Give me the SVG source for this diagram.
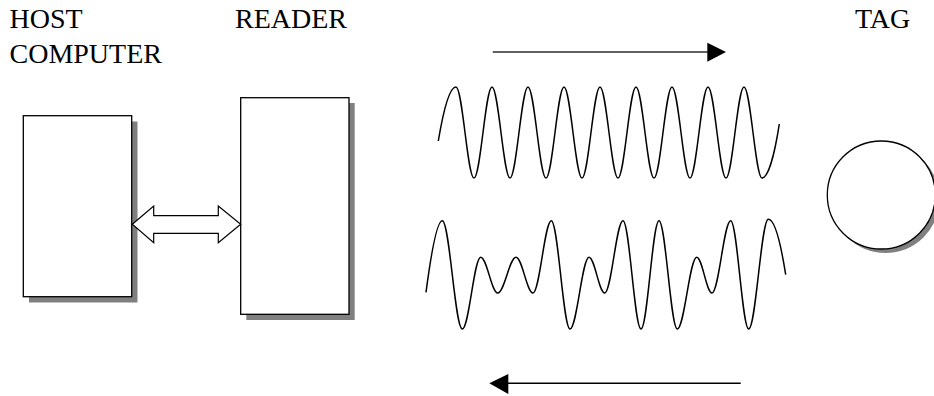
<svg xmlns="http://www.w3.org/2000/svg" width="934" height="396" viewBox="0 0 934 396">
<defs>
<style>
.lbl{font-family:"Liberation Serif","Times New Roman",serif;font-size:28px;fill:#000}
.box{fill:#fff;stroke:#000;stroke-width:1.3}
.shadow{fill:#808080;stroke:none}
.wave{fill:none;stroke:#000;stroke-width:1.5;stroke-linejoin:round}
</style>
</defs>
<rect width="934" height="396" fill="#fff"/>
<g id="labels">
<text class="lbl" x="9.5" y="28.3">HOST</text>
<text class="lbl" x="9.5" y="63.3">COMPUTER</text>
<text class="lbl" x="235" y="28.3">READER</text>
<text class="lbl" x="855" y="28.3">TAG</text>
</g>
<g id="host">
<rect class="shadow" x="29" y="121.5" width="108.5" height="181"/>
<rect class="box" x="23.3" y="115.7" width="108.4" height="181"/>
</g>
<g id="reader">
<rect class="shadow" x="246.3" y="103" width="108.4" height="217"/>
<rect class="box" x="240.7" y="97.7" width="108.3" height="216.6"/>
</g>
<g id="tag">
<circle class="shadow" cx="885.5" cy="199" r="54"/>
<circle class="box" cx="881.3" cy="195" r="54"/>
</g>
<g id="connectors">
<polygon points="132.3,224.3 153.7,206 153.7,215.7 218.3,215.7 218.3,206 240.7,224.3 218.3,242.7 218.3,233.3 153.7,233.3 153.7,242.7" fill="#fff" stroke="#000" stroke-width="1.2" stroke-linejoin="miter"/>
<line x1="492.7" y1="52" x2="708" y2="52" stroke="#606060" stroke-width="2"/>
<polygon points="707.3,42.7 726,52 707.3,61.7" fill="#000"/>
<line x1="508" y1="383.3" x2="740.7" y2="383.3" stroke="#000" stroke-width="1.5"/>
<polygon points="489.3,383.3 508.3,374 508.3,394" fill="#000"/>
</g>
<g id="waves">
<path class="wave" d="M438.3,141 C443,113 449.5,87 456,87 C462.5,87 467.5,178 474,178 S485.5,87 492,87 S503.5,178 510,178 S521.5,87 528,87 S539.5,178 546,178 S557.5,87 564,87 S575.5,178 582,178 S593.5,87 600,87 S611.5,178 618,178 S629.5,87 636,87 S647.5,178 654,178 S665.5,87 672,87 S683.5,178 690,178 S701.5,87 708,87 S719.5,178 726,178 S737.5,87 744,87 S755.5,178 762,178 C768.5,178 775,152 779.3,124"/>
<path class="wave" d="M426,292.3 C430,262 436,220.7 442.3,220.7 C449.6,220.7 455,329 462.3,329 C469,329 474,257.3 480.7,257.3 C486.9,257.3 491.5,293 497.7,293 C504.3,293 509.4,257.3 516,257.3 C522.2,257.3 526.8,293 533,293 C539.6,293 544.7,220.7 551.3,220.7 C558.1,220.7 563.2,329 570,329 C576.9,329 582.1,257.3 589,257.3 C594.7,257.3 599,293 604.7,293 C611.3,293 616.4,220.7 623,220.7 C629.5,220.7 634.5,329 641,329 C647.5,329 652.5,220.7 659,220.7 C665.6,220.7 670.7,329 677.3,329 C684.3,329 689.7,257.3 696.7,257.3 C702.3,257.3 706.4,293 712,293 C718.8,293 723.9,220.7 730.7,220.7 C737.2,220.7 742.2,329 748.7,329 C755.8,329 761.2,219.3 768.3,219.3 C775,219.3 781,245 785.7,274.7"/>
</g>
</svg>
